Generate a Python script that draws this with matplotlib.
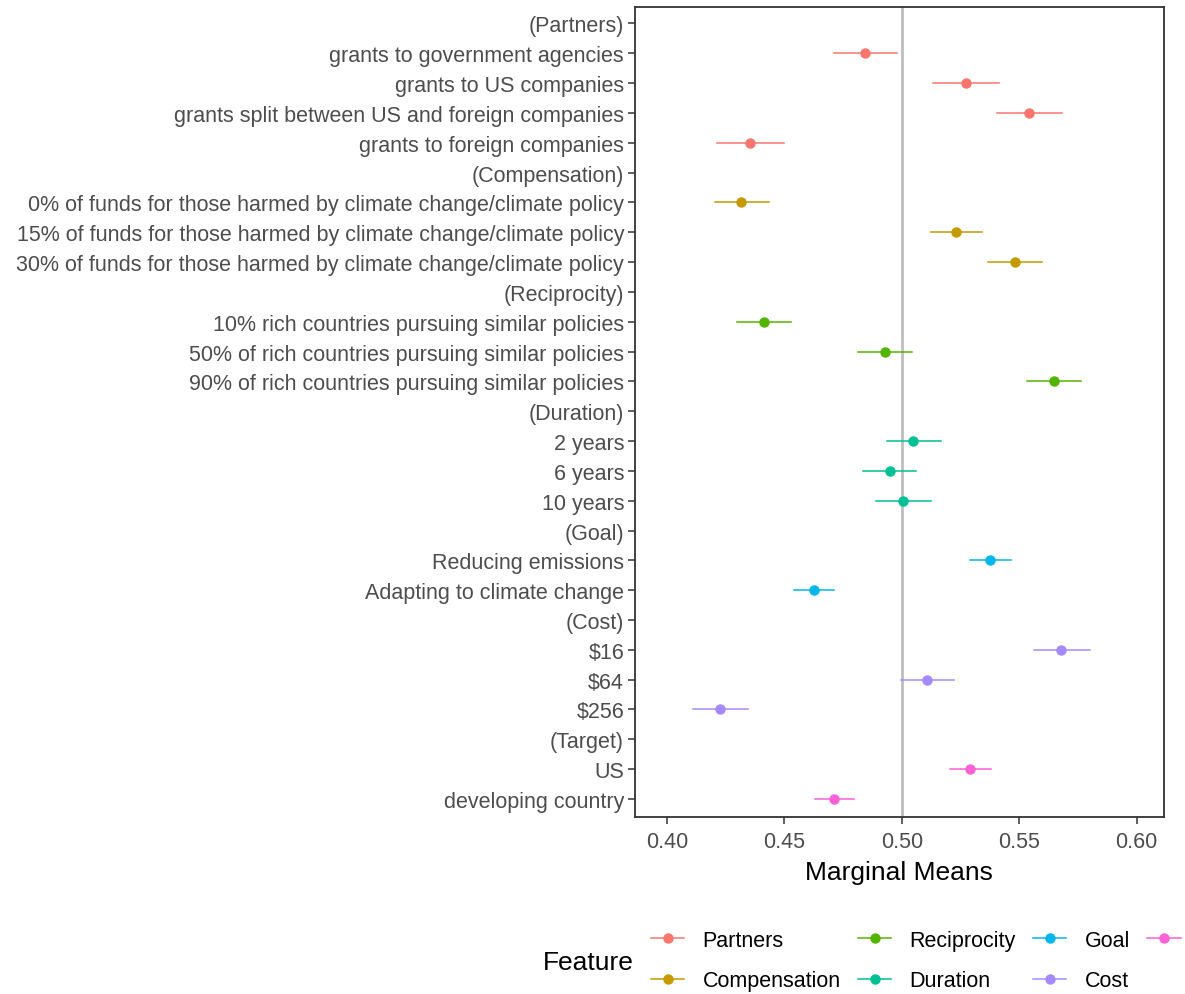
import matplotlib
matplotlib.use("Agg")
import matplotlib.pyplot as plt
from matplotlib.lines import Line2D

plt.rcParams["font.family"] = ["Liberation Sans", "DejaVu Sans"]

# feature order and colours (ggplot hue palette)
features = ["Partners", "Compensation", "Reciprocity", "Duration", "Goal", "Cost", "Target"]
colors = ["#F8766D", "#C49A00", "#53B400", "#00C094", "#00B6EB", "#A58AFF", "#FB61D7"]

# rows from top to bottom; header rows have no estimate
labels = [
    "(Partners)",
    "grants to government agencies",
    "grants to US companies",
    "grants split between US and foreign companies",
    "grants to foreign companies",
    "(Compensation)",
    "0% of funds for those harmed by climate change/climate policy",
    "15% of funds for those harmed by climate change/climate policy",
    "30% of funds for those harmed by climate change/climate policy",
    "(Reciprocity)",
    "10% rich countries pursuing similar policies",
    "50% of rich countries pursuing similar policies",
    "90% of rich countries pursuing similar policies",
    "(Duration)",
    "2 years",
    "6 years",
    "10 years",
    "(Goal)",
    "Reducing emissions",
    "Adapting to climate change",
    "(Cost)",
    "$16",
    "$64",
    "$256",
    "(Target)",
    "US",
    "developing country",
]
row_feature = [
    None, "Partners", "Partners", "Partners", "Partners",
    None, "Compensation", "Compensation", "Compensation",
    None, "Reciprocity", "Reciprocity", "Reciprocity",
    None, "Duration", "Duration", "Duration",
    None, "Goal", "Goal",
    None, "Cost", "Cost", "Cost",
    None, "Target", "Target",
]
estimate = [
    None, 0.4844, 0.5272, 0.5540, 0.4353,
    None, 0.4315, 0.5231, 0.5481,
    None, 0.4412, 0.4927, 0.5646,
    None, 0.5049, 0.4948, 0.5004,
    None, 0.5375, 0.4625,
    None, 0.5679, 0.5106, 0.4225,
    None, 0.5290, 0.4711,
]
lower = [
    None, 0.4710, 0.5134, 0.5405, 0.4213,
    None, 0.4204, 0.5124, 0.5366,
    None, 0.4299, 0.4815, 0.5531,
    None, 0.4935, 0.4835, 0.4891,
    None, 0.5290, 0.4542,
    None, 0.5561, 0.4997, 0.4110,
    None, 0.5207, 0.4628,
]
upper = [
    None, 0.4981, 0.5415, 0.5682, 0.4497,
    None, 0.4432, 0.5342, 0.5598,
    None, 0.4527, 0.5042, 0.5763,
    None, 0.5168, 0.5061, 0.5124,
    None, 0.5463, 0.4713,
    None, 0.5801, 0.5222, 0.4345,
    None, 0.5378, 0.4798,
]

fig = plt.figure(figsize=(11.85, 9.95), dpi=100)
ax = fig.add_axes([0.536, 0.178, 0.446, 0.814])

ax.axvline(0.5, color="#BEBEBE", lw=2, zorder=1)

for i, feat in enumerate(row_feature):
    if feat is None:
        continue
    c = colors[features.index(feat)]
    ax.plot([lower[i], upper[i]], [i, i], color=c, lw=1.1, zorder=2)
    ax.plot(estimate[i], i, "o", color=c, ms=6.5, zorder=3)

ax.set_yticks(range(len(labels)))
ax.set_yticklabels(labels)
ax.set_ylim(len(labels) - 0.4, -0.55)
ax.set_xlim(0.3864, 0.6115)
ax.set_xticks([0.40, 0.45, 0.50, 0.55, 0.60])
ax.set_xticklabels(["0.40", "0.45", "0.50", "0.55", "0.60"])
ax.tick_params(axis="both", labelsize=15.5, labelcolor="#4D4D4D", color="#333333",
               length=5, width=1.1, pad=3)
ax.tick_params(axis="x", pad=5)
ax.set_xlabel("Marginal Means", fontsize=19, labelpad=6)
for sp in ax.spines.values():
    sp.set_color("#333333")
    sp.set_linewidth(1.3)

handles = [Line2D([0], [0], color=c, lw=1.1, marker="o", ms=6.5) for c in colors]
fig.legend(handles, features, loc="upper left", bbox_to_anchor=(0.542, 0.073),
           ncol=4, frameon=False, fontsize=15.5, handlelength=1.55, handletextpad=0.85,
           columnspacing=0.8, labelspacing=0.9, borderaxespad=0)
fig.text(0.458, 0.032, "Feature", fontsize=19, ha="left", va="center")

fig.savefig("out.png", dpi=100)
